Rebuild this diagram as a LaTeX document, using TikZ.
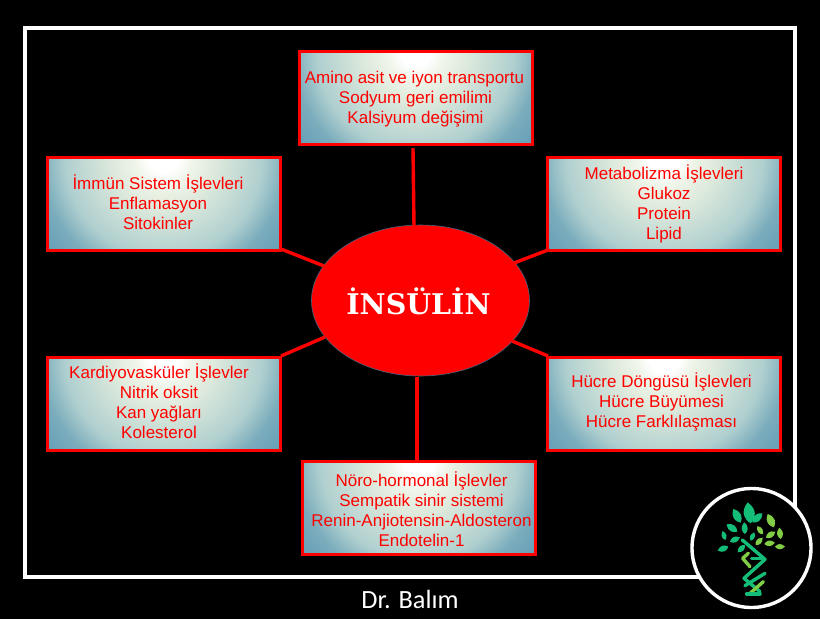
\documentclass[tikz,border=0pt]{standalone}
\usepackage{fontspec}
\usetikzlibrary{shapes.geometric,calc}
\setmainfont{Liberation Sans}
\newfontfamily\titlefont{DejaVu Serif}
\newfontfamily\drfont{Carlito}
\definecolor{boxred}{RGB}{255,0,0}
\definecolor{glowa}{RGB}{238,244,232}
\definecolor{glowb}{RGB}{222,234,220}
\definecolor{glowc}{RGB}{175,207,207}
\definecolor{glowd}{RGB}{122,172,188}
\definecolor{glowe}{RGB}{100,158,184}
\definecolor{ringblue}{RGB}{70,100,130}
\definecolor{leafdark}{RGB}{20,190,120}
\definecolor{leaflight}{RGB}{130,205,70}
\pgfdeclareradialshading{boxglow}{\pgfpoint{0bp}{0bp}}{
  color(0bp)=(white);
  color(2.5bp)=(white);
  color(5bp)=(glowa);
  color(8.5bp)=(glowb);
  color(16.5bp)=(glowc);
  color(20.5bp)=(glowd);
  color(25bp)=(glowe);
  color(50bp)=(glowe)}
\tikzset{
  px/.style={x=1pt,y=-1pt},
  infobox/.style={draw=boxred,line width=3pt,rectangle,inner sep=0pt,
    minimum width=233pt,minimum height=93pt,
    path picture={\shade[shading=boxglow] (path picture bounding box.north) circle [radius=150pt];},
    text=boxred,align=center,font=\fontsize{17}{20}\selectfont},
  spoke/.style={draw=boxred,line width=3.4pt},
  helix/.style={line width=3.4pt,line cap=round,line join=round},
}
\newcommand{\pad}[1]{\rule{#1pt}{0pt}}
\newcommand{\dropby}[1]{\rule{0pt}{#1pt}}
\newcommand{\liftby}[1]{\rule[-#1pt]{0pt}{0pt}}
\newcommand{\leaf}[5]{% base x y, tip x y, colour
  \fill[#5] (#1,#2) .. controls ($(#1,#2)!0.35!50:(#3,#4)$) and ($(#1,#2)!0.72!36:(#3,#4)$) .. (#3,#4)
     .. controls ($(#1,#2)!0.72!-36:(#3,#4)$) and ($(#1,#2)!0.35!-50:(#3,#4)$) .. (#1,#2);}
\begin{document}
\begin{tikzpicture}[px]
\useasboundingbox (0,0) rectangle (820,619);
\fill[black] (0,0) rectangle (820,619);
\draw[white,line width=4pt] (25,28) rectangle (795,577);
% centre
\node[ellipse,draw=ringblue,line width=.6pt,fill=boxred,minimum width=218pt,minimum height=151pt,inner sep=0pt] (ins) at (420.5,300.5) {};
\node[text=white,font=\titlefont\bfseries\fontsize{28.5}{30}\selectfont] (lab) at (418.5,301) {İNSÜLİN};
% boxes
\node[infobox] (top) at (415.5,98) {\dropby{14.3}Amino asit ve iyon transportu\pad{2}\\Sodyum geri emilimi\\Kalsiyum değişimi};
\node[infobox] (il) at (163.5,204) {İmmün Sistem İşlevleri\pad{11}\\Enflamasyon\pad{11}\\Sitokinler\pad{11}\liftby{4}};
\node[infobox] (ir) at (664,204) {Metabolizma İşlevleri\\Glukoz\\Protein\\Lipid};
\node[infobox] (bl) at (163.5,403.5) {Kardiyovasküler İşlevler\pad{9}\\Nitrik oksit\pad{9}\\Kan yağları\pad{9}\\Kolesterol\pad{9}\liftby{4}};
\node[infobox] (br) at (664,403.5) {Hücre Döngüsü İşlevleri\pad{5}\\Hücre Büyümesi\pad{5}\\Hücre Farklılaşması\pad{5}\liftby{7.5}};
\node[infobox] (bot) at (418.5,508) {\pad{6}\dropby{17.5}Nöro-hormonal İşlevler\\\pad{6}Sempatik sinir sistemi\\\pad{6}Renin-Anjiotensin-Aldosteron\\\pad{6}Endotelin-1};
% connectors
\coordinate (a1) at (413,148); \coordinate (a2) at (414,226);
\draw[spoke] (a1) -- (a2);
\coordinate (b1) at (417,377); \coordinate (b2) at (417,460);
\draw[spoke] (b1) -- (b2);
\coordinate (c1) at (281,249); \coordinate (c2) at (324,266);
\draw[spoke] (c1) -- (c2);
\coordinate (d1) at (281,356); \coordinate (d2) at (325,337);
\draw[spoke] (d1) -- (d2);
\coordinate (e1) at (548,250); \coordinate (e2) at (514,263);
\draw[spoke] (e1) -- (e2);
\coordinate (f1) at (548,356); \coordinate (f2) at (512,341);
\draw[spoke] (f1) -- (f2);
% badge
\node[circle,draw=white,fill=black,line width=3.4pt,minimum size=119pt,inner sep=0pt] (badge) at (751.5,548) {};
\begin{scope}[shift={(700,495)},x=0.3333pt,y=-0.3333pt]
\draw[leaflight,helix] (145,175) -- (128,190) -- (150,215);
\draw[leafdark,helix] (127,135) -- (195,193) -- (132,250) -- (180,290);
\draw[leafdark,helix] (155,190) -- (185,190);
\draw[leafdark,helix] (195,235) -- (135,272);
\draw[leaflight,helix] (190,260) -- (148,297);
\draw[leafdark,helix] (140,297) -- (180,297);
\leaf{152}{85}{143}{22}{leafdark}
\leaf{157}{82}{187}{55}{leafdark}
\leaf{122}{83}{100}{42}{leafdark}
\leaf{222}{97}{203}{57}{leaflight}
\leaf{112}{110}{80}{88}{leafdark}
\leaf{135}{117}{133}{82}{leafdark}
\leaf{152}{137}{163}{112}{leafdark}
\leaf{188}{118}{172}{93}{leaflight}
\leaf{198}{128}{226}{110}{leaflight}
\leaf{242}{132}{238}{98}{leaflight}
\leaf{76}{135}{68}{108}{leafdark}
\leaf{90}{140}{120}{127}{leafdark}
\leaf{85}{155}{53}{167}{leafdark}
\leaf{135}{150}{113}{172}{leafdark}
\leaf{167}{150}{188}{128}{leaflight}
\leaf{193}{147}{225}{143}{leaflight}
\leaf{225}{155}{255}{155}{leaflight}
\end{scope}
\node[text=white,font=\drfont\fontsize{26.3}{28}\selectfont] (dr) at (410,599) {Dr. Balım};
\end{tikzpicture}
\end{document}
